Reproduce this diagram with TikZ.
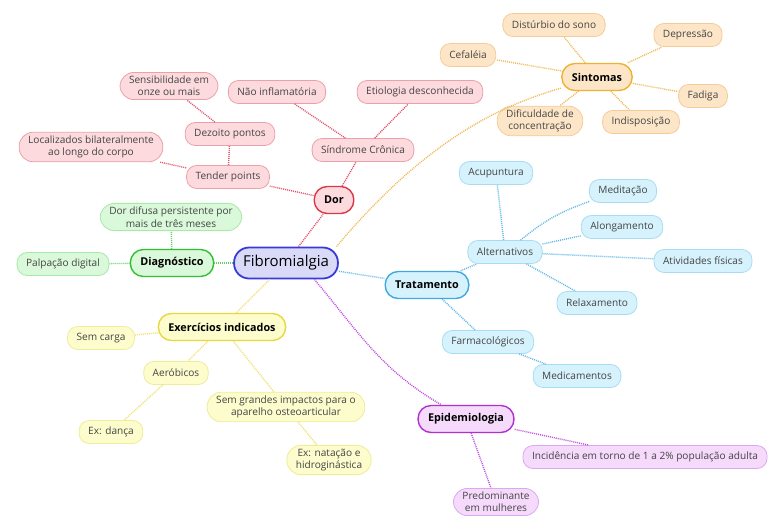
\documentclass[tikz,border=0pt]{standalone}
\usepackage{fontspec}
\setmainfont{Open Sans}
\usetikzlibrary{positioning}

\definecolor{rootfill}{HTML}{D8DAF8}
\definecolor{rootline}{HTML}{3A3AD8}
\definecolor{redfill}{HTML}{FCDADE}
\definecolor{redline}{HTML}{EBA0AA}
\definecolor{redmain}{HTML}{D83848}
\definecolor{redlink}{HTML}{E0506A}
\definecolor{orafill}{HTML}{FDE6C8}
\definecolor{oraline}{HTML}{F5CC98}
\definecolor{oramain}{HTML}{F0B030}
\definecolor{oralink}{HTML}{F0B858}
\definecolor{bluefill}{HTML}{D6F2FC}
\definecolor{blueline}{HTML}{A8DCF2}
\definecolor{bluemain}{HTML}{40A8E0}
\definecolor{bluelink}{HTML}{60B8E8}
\definecolor{purfill}{HTML}{F5DAFC}
\definecolor{purline}{HTML}{DCA8F0}
\definecolor{purmain}{HTML}{B030D0}
\definecolor{purlink}{HTML}{C050E0}
\definecolor{grefill}{HTML}{DAF8DA}
\definecolor{greline}{HTML}{A8E8A8}
\definecolor{gremain}{HTML}{30C030}
\definecolor{grelink}{HTML}{60D060}
\definecolor{yelfill}{HTML}{FCFCCC}
\definecolor{yelline}{HTML}{F0EC98}
\definecolor{yelmain}{HTML}{E8D840}
\definecolor{yellink}{HTML}{F0E070}
\definecolor{leaftext}{HTML}{444444}

\begin{document}
\begin{tikzpicture}[
    x=1pt, y=-1pt,
    leaf/.style={rectangle, rounded corners=10pt, draw=#1line, fill=#1fill, line width=0.8pt,
        text=leaftext, font=\fontsize{10.1}{12.4}\selectfont, align=center,
        inner xsep=9pt, inner ysep=3.5pt, minimum height=23pt},
    topic/.style={rectangle, rounded corners=13pt, draw=#1main, fill=#1fill, line width=1.4pt,
        text=black, font=\fontsize{10.8}{13}\selectfont\bfseries,
        inner xsep=10pt, minimum height=27pt},
    link/.style={#1link, line width=1.4pt, dash pattern=on 1pt off 1pt}
]
    \useasboundingbox (0,0) rectangle (771,515);

    % centro
    \node [rectangle, rounded corners=15pt, draw=rootline, fill=rootfill, line width=1.8pt,
        font=\fontsize{15}{17}\selectfont, inner xsep=9pt, minimum height=31pt] (root) at (286,263) {Fibromialgia};

    % ramos principais
    \node [topic=red] (dor) at (334,200) {Dor};
    \node [topic=ora] (sintomas) at (597,77) {Sintomas};
    \node [topic=blue] (tratamento) at (427,285) {Tratamento};
    \node [topic=pur] (epidemio) at (466,419) {Epidemiologia};
    \node [topic=gre] (diagnostico) at (172,263) {Diagnóstico};
    \node [topic=yel] (exercicios) at (222,327) {Exercícios indicados};

    % Dor
    \node [leaf=red] (sindrome) at (363,150) {Síndrome Crônica};
    \node [leaf=red] (etiologia) at (420,92) {Etiologia desconhecida};
    \node [leaf=red] (naoinfl) at (277,92) {Não inflamatória};
    \node [leaf=red] (tender) at (228,177) {Tender points};
    \node [leaf=red] (dezoito) at (230,134) {Dezoito pontos};
    \node [leaf=red, rounded corners=14pt] (sensib) at (169,86) {Sensibilidade em\\onze ou mais};
    \node [leaf=red, rounded corners=14pt] (localiz) at (91,147) {Localizados bilateralmente\\ao longo do corpo};

    % Sintomas
    \node [leaf=ora] (disturbio) at (554,25) {Distúrbio do sono};
    \node [leaf=ora] (depressao) at (688,35) {Depressão};
    \node [leaf=ora] (cefaleia) at (468,55) {Cefaléia};
    \node [leaf=ora] (fadiga) at (703,96) {Fadiga};
    \node [leaf=ora, rounded corners=14pt] (dificuldade) at (540,121) {Dificuldade de\\concentração};
    \node [leaf=ora] (indisp) at (641,122) {Indisposição};

    % Tratamento
    \node [leaf=blue] (alternativos) at (505,252) {Alternativos};
    \node [leaf=blue] (acupuntura) at (496,173) {Acupuntura};
    \node [leaf=blue] (meditacao) at (623,191) {Meditação};
    \node [leaf=blue] (alongamento) at (622,227) {Alongamento};
    \node [leaf=blue] (atividades) at (703,261) {Atividades físicas};
    \node [leaf=blue] (relax) at (597,303) {Relaxamento};
    \node [leaf=blue] (farmaco) at (488,342) {Farmacológicos};
    \node [leaf=blue] (medicam) at (577,376) {Medicamentos};

    % Epidemiologia
    \node [leaf=pur] (incidencia) at (645,457) {Incidência em torno de 1 a 2\% população adulta};
    \node [leaf=pur, rounded corners=14pt] (predomin) at (496,502) {Predominante\\em mulheres};

    % Diagnóstico
    \node [leaf=gre, rounded corners=14pt] (dordifusa) at (171,217) {Dor difusa persistente por\\mais de três meses};
    \node [leaf=gre] (palpacao) at (63,264) {Palpação digital};

    % Exercícios
    \node [leaf=yel] (semcarga) at (101,338) {Sem carga};
    \node [leaf=yel] (aerobicos) at (176,373) {Aeróbicos};
    \node [leaf=yel] (danca) at (111,432) {Ex: dança};
    \node [leaf=yel, rounded corners=14pt] (semimpacto) at (286,407) {Sem grandes impactos para o\\aparelho osteoarticular};
    \node [leaf=yel, rounded corners=14pt] (natacao) at (329,460) {Ex: natação e\\hidroginástica};

    % ligações
    \draw [link=red] (root) -- (dor);
    \draw [link=ora] (root.18) to[out=50, in=197, out looseness=1.4, in looseness=0.5] (sintomas);
    \draw [link=blue] (root) -- (tratamento);
    \draw [link=pur] (root.-30) to[out=-50, in=150] (epidemio);
    \draw [link=gre] (root) -- (diagnostico);
    \draw [link=yel] (root) -- (exercicios);

    \draw [link=red] (dor) -- (sindrome);
    \draw [link=red] (dor) -- (tender);
    \draw [link=red] (sindrome) -- (etiologia);
    \draw [link=red] (sindrome) -- (naoinfl);
    \draw [link=red] (tender) -- (dezoito);
    \draw [link=red] (tender) -- (localiz);
    \draw [link=red] (dezoito) -- (sensib);

    \draw [link=ora] (sintomas) -- (disturbio);
    \draw [link=ora] (sintomas) -- (depressao);
    \draw [link=ora] (sintomas) -- (cefaleia);
    \draw [link=ora] (sintomas) -- (fadiga);
    \draw [link=ora] (sintomas) -- (dificuldade);
    \draw [link=ora] (sintomas) -- (indisp);

    \draw [link=blue] (tratamento) -- (alternativos);
    \draw [link=blue] (tratamento) -- (farmaco);
    \draw [link=blue] (alternativos) -- (acupuntura);
    \draw [link=blue] (alternativos) to[bend left=10] (meditacao);
    \draw [link=blue] (alternativos) -- (alongamento);
    \draw [link=blue] (alternativos) -- (atividades);
    \draw [link=blue] (alternativos) -- (relax);
    \draw [link=blue] (farmaco) -- (medicam);

    \draw [link=pur] (epidemio) -- (incidencia);
    \draw [link=pur] (epidemio) -- (predomin);

    \draw [link=gre] (diagnostico) -- (dordifusa);
    \draw [link=gre] (diagnostico) -- (palpacao);

    \draw [link=yel] (exercicios) -- (semcarga);
    \draw [link=yel] (exercicios) -- (aerobicos);
    \draw [link=yel] (exercicios) -- (semimpacto);
    \draw [link=yel] (aerobicos) -- (danca);
    \draw [link=yel] (semimpacto) -- (natacao);
\end{tikzpicture}
\end{document}
